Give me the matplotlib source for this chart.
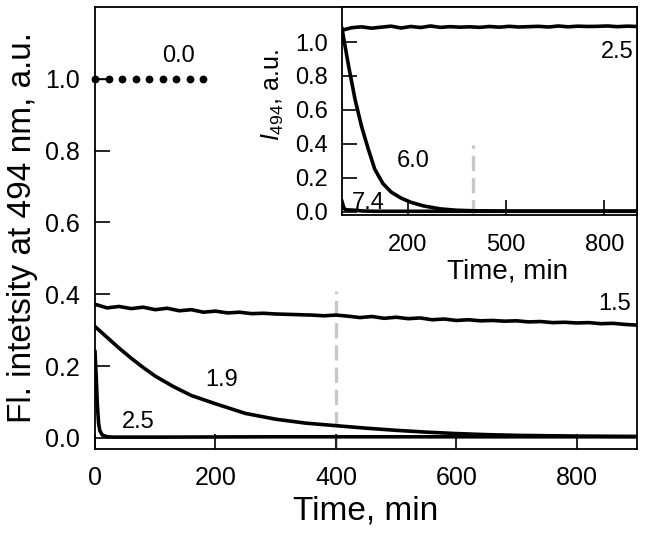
import matplotlib
matplotlib.use("Agg")
import matplotlib.pyplot as plt

plt.rcParams['font.family'] = ['Liberation Sans', 'DejaVu Sans']
plt.rcParams['mathtext.fontset'] = 'custom'
plt.rcParams['mathtext.rm'] = 'Liberation Sans'
plt.rcParams['mathtext.it'] = 'Liberation Sans:italic'
plt.rcParams['lines.scale_dashes'] = False

# ---------------- main panel data ----------------
t_00 = [0, 22.5, 45, 67.5, 90, 112.5, 135, 157.5, 180]
y_00 = [1.0, 1.0, 1.0, 1.0, 1.0, 1.0, 1.0, 1.0, 1.0]

t_15 = list(range(0, 901, 20))
y_15 = [0.372, 0.362, 0.366, 0.360, 0.364, 0.357, 0.361, 0.354, 0.357, 0.350,
        0.353, 0.348, 0.350, 0.346, 0.347, 0.345, 0.344, 0.343, 0.342, 0.340,
        0.342, 0.339, 0.335, 0.338, 0.333, 0.336, 0.332, 0.334, 0.329, 0.331,
        0.327, 0.329, 0.326, 0.327, 0.325, 0.326, 0.323, 0.324, 0.321, 0.322,
        0.320, 0.321, 0.318, 0.319, 0.316, 0.314]

t_19 = [0, 10, 20, 40, 60, 80, 100, 130, 160, 200, 250, 300, 350, 400, 450,
        500, 550, 600, 650, 700, 800, 900]
y_19 = [0.31, 0.295, 0.28, 0.25, 0.222, 0.196, 0.172, 0.143, 0.118, 0.095,
        0.068, 0.052, 0.041, 0.034, 0.027, 0.021, 0.016, 0.012, 0.009, 0.007,
        0.005, 0.004]

t_25 = [0, 2, 4, 6, 8, 12, 20, 30, 100, 300, 500, 700, 900]
y_25 = [0.24, 0.17, 0.09, 0.04, 0.02, 0.008, 0.003, 0.002, 0.002, 0.003,
        0.003, 0.003, 0.003]

main_labels = ["0.0", "1.5", "1.9", "2.5"]
main_label_t = [139, 863, 211, 72]
main_label_y = [1.064, 0.373, 0.16, 0.045]

# ---------------- inset data ----------------
ti_25 = list(range(0, 901, 30))
yi_25 = [1.07, 1.085, 1.09, 1.082, 1.088, 1.094, 1.083, 1.092, 1.086, 1.095,
         1.087, 1.091, 1.088, 1.090, 1.087, 1.092, 1.088, 1.093, 1.089, 1.091,
         1.093, 1.089, 1.095, 1.090, 1.094, 1.092, 1.093, 1.095, 1.091, 1.094,
         1.092]

ti_60 = [0, 10, 20, 40, 60, 80, 100, 125, 150, 180, 210, 250, 300, 350, 400,
         500, 600, 700, 800, 900]
yi_60 = [1.08, 0.97, 0.86, 0.66, 0.50, 0.37, 0.25, 0.165, 0.115, 0.08, 0.055,
         0.033, 0.016, 0.008, 0.005, 0.003, 0.003, 0.003, 0.003, 0.003]

ti_74 = [0, 3, 6, 10, 20, 40, 60, 100, 300, 500, 700, 900]
yi_74 = [0.06, 0.04, 0.02, 0.012, 0.01, 0.008, 0.004, 0.002, 0.002, 0.002,
         0.002, 0.002]

inset_labels = ["2.5", "6.0", "7.4"]
inset_label_t = [839, 217, 79]
inset_label_y = [0.94, 0.30, 0.053]

inset_xticks = [200, 500, 800]
main_xticks = [0, 200, 400, 600, 800]
main_yticks = [0.0, 0.2, 0.4, 0.6, 0.8, 1.0]
inset_yticks = [0.0, 0.2, 0.4, 0.6, 0.8, 1.0]
dash_t = 400

# ---------------- figure ----------------
fig = plt.figure(figsize=(6.45, 5.42), dpi=100)
ax = fig.add_axes([95/645, 1 - 449/542, 542/645, 442/542])

lw = 2.6
ax.plot([dash_t, dash_t], [-0.031, 0.41], color='#c8c8c8', lw=2.4,
        dashes=(11, 5), zorder=1)
ax.plot(t_00, y_00, 'o', color='black', ms=4.6, clip_on=False, zorder=3)
ax.plot(t_00[:2], y_00[:2], '-', color='black', lw=1.0, zorder=3)
ax.plot(t_15, y_15, color='black', lw=lw, zorder=2)
ax.plot(t_19, y_19, color='black', lw=lw, zorder=2)
ax.plot(t_25, y_25, color='black', lw=lw, zorder=2)

for s, tx, ty in zip(main_labels, main_label_t, main_label_y):
    ax.text(tx, ty, s, fontsize=17, ha='center', va='center')

ax.set_xlim(0, 900)
ax.set_ylim(-0.031, 1.2)
ax.set_xticks(main_xticks)
ax.set_yticks(main_yticks)
ax.set_yticklabels([f"{v:.1f}" for v in main_yticks])
ax.tick_params(direction='in', length=11, width=1.2, labelsize=18)
ax.tick_params(axis='y', pad=11)
ax.tick_params(axis='x', pad=12)
for sp in ax.spines.values():
    sp.set_linewidth(1.3)
ax.set_xlabel("Time, min", fontsize=24, labelpad=4)
ax.set_ylabel("Fl. intetsity at 494 nm, a.u.", fontsize=24, labelpad=5)

# ---------------- inset ----------------
axi = fig.add_axes([342/645, 1 - 215/542, 295/645, 208/542])
axi.set_facecolor('white')
axi.plot([dash_t, dash_t], [-0.02, 0.39], color='#c8c8c8', lw=2.4,
         dashes=(11, 5), zorder=1)
axi.plot(ti_25, yi_25, color='black', lw=lw, zorder=2)
axi.plot(ti_60, yi_60, color='black', lw=lw, zorder=2)
axi.plot(ti_74, yi_74, color='black', lw=lw, zorder=2)
for s, tx, ty in zip(inset_labels, inset_label_t, inset_label_y):
    axi.text(tx, ty, s, fontsize=17, ha='center', va='center')
axi.set_xlim(0, 900)
axi.set_ylim(-0.02, 1.207)
axi.set_xticks(inset_xticks)
axi.set_yticks(inset_yticks)
axi.set_yticklabels([f"{v:.1f}" for v in inset_yticks])
axi.tick_params(direction='in', length=11, width=1.2, labelsize=17)
axi.tick_params(axis='y', pad=10)
axi.tick_params(axis='x', pad=14)
for sp in axi.spines.values():
    sp.set_linewidth(1.3)
axi.set_xlabel("Time, min", fontsize=20, va='center')
axi.xaxis.set_label_coords(0.56, -0.27)
axi.set_ylabel(r"$I_{494}$, a.u.", fontsize=18)
axi.yaxis.set_label_coords(-0.19, 0.575)

fig.savefig("out.png", dpi=100)
